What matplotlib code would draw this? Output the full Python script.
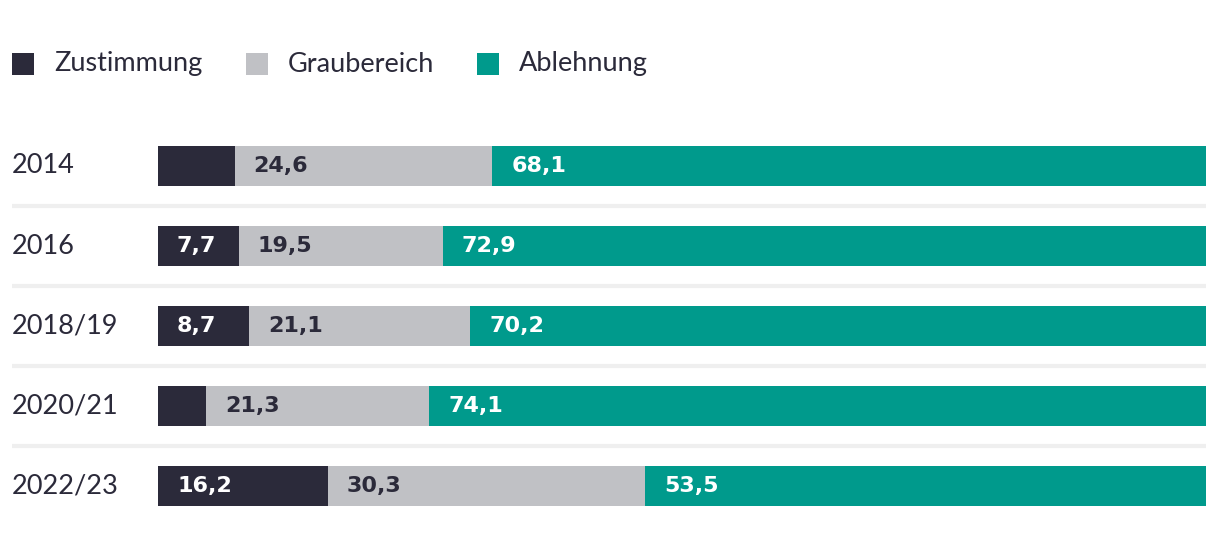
import matplotlib
matplotlib.use("Agg")
import matplotlib.pyplot as plt
from matplotlib.patches import Rectangle
from matplotlib.lines import Line2D

years = ["2014", "2016", "2018/19", "2020/21", "2022/23"]
zustimmung = [7.3, 7.7, 8.7, 4.6, 16.2]
graubereich = [24.6, 19.5, 21.1, 21.3, 30.3]
ablehnung = [68.1, 72.9, 70.2, 74.1, 53.5]
zust_labels = [None, "7,7", "8,7", None, "16,2"]
grau_labels = ["24,6", "19,5", "21,1", "21,3", "30,3"]
abl_labels = ["68,1", "72,9", "70,2", "74,1", "53,5"]
series_names = ["Zustimmung", "Graubereich", "Ablehnung"]

C_DARK = "#2b2a3a"
C_GREY = "#c0c1c5"
C_TEAL = "#009a8c"
TXT = "#2b2a3a"

W, H = 1220, 556
fig = plt.figure(figsize=(W / 100, H / 100), dpi=100)
fig.patch.set_facecolor("white")

# axes in pixel coords: x 158..1206, y 126..526 (from top)
ax = fig.add_axes([158 / W, 1 - 526 / H, (1206 - 158) / W, 400 / H])
ax.set_xlim(0, 100)
ax.set_ylim(len(years) - 0.5, -0.5)
ax.axis("off")

n = len(years)
ypos = list(range(n))
tot = [z + g + a for z, g, a in zip(zustimmung, graubereich, ablehnung)]
zs = [z / t * 100 for z, t in zip(zustimmung, tot)]
gs = [g / t * 100 for g, t in zip(graubereich, tot)]
as_ = [a / t * 100 for a, t in zip(ablehnung, tot)]

bh = 0.5
ax.barh(ypos, zs, height=bh, color=C_DARK, linewidth=0)
ax.barh(ypos, gs, left=zs, height=bh, color=C_GREY, linewidth=0)
lefts3 = [a + b for a, b in zip(zs, gs)]
ax.barh(ypos, as_, left=lefts3, height=bh, color=C_TEAL, linewidth=0)

lab_font = dict(family=["DejaVu Sans"], fontweight="bold", fontsize=16)
off = 19 / 1048 * 100
for i in range(n):
    if zust_labels[i]:
        ax.text(off, i, zust_labels[i], color="white", va="center", ha="left", **lab_font)
    ax.text(zs[i] + off, i, grau_labels[i], color=TXT, va="center", ha="left", **lab_font)
    ax.text(lefts3[i] + off, i, abl_labels[i], color="white", va="center", ha="left", **lab_font)

# year labels
for i, y in enumerate(years):
    yy = 1 - (166 + 80 * i) / H
    fig.text(12 / W, yy, y, ha="left", va="center", fontsize=19.5,
             family=["Lato", "DejaVu Sans"], fontweight="normal", color=TXT)

# separators
for i in range(n - 1):
    yy = 1 - (206 + 80 * i) / H
    fig.add_artist(Line2D([12 / W, 1206 / W], [yy, yy], color="#efefef", lw=3,
                          transform=fig.transFigure, solid_capstyle="butt"))

# legend
leg_colors = [C_DARK, C_GREY, C_TEAL]
leg_x = [12, 246, 477]
for name, col, x in zip(series_names, leg_colors, leg_x):
    fig.add_artist(Rectangle((x / W, 1 - 75 / H), 22 / W, 22 / H, transform=fig.transFigure,
                             facecolor=col, edgecolor="none"))
    fig.text((x + 42) / W, 1 - 64 / H, name, ha="left", va="center", fontsize=19.5,
             family=["Lato", "DejaVu Sans"], fontweight="normal", color=TXT)

fig.savefig("out.png", dpi=100, facecolor="white")
